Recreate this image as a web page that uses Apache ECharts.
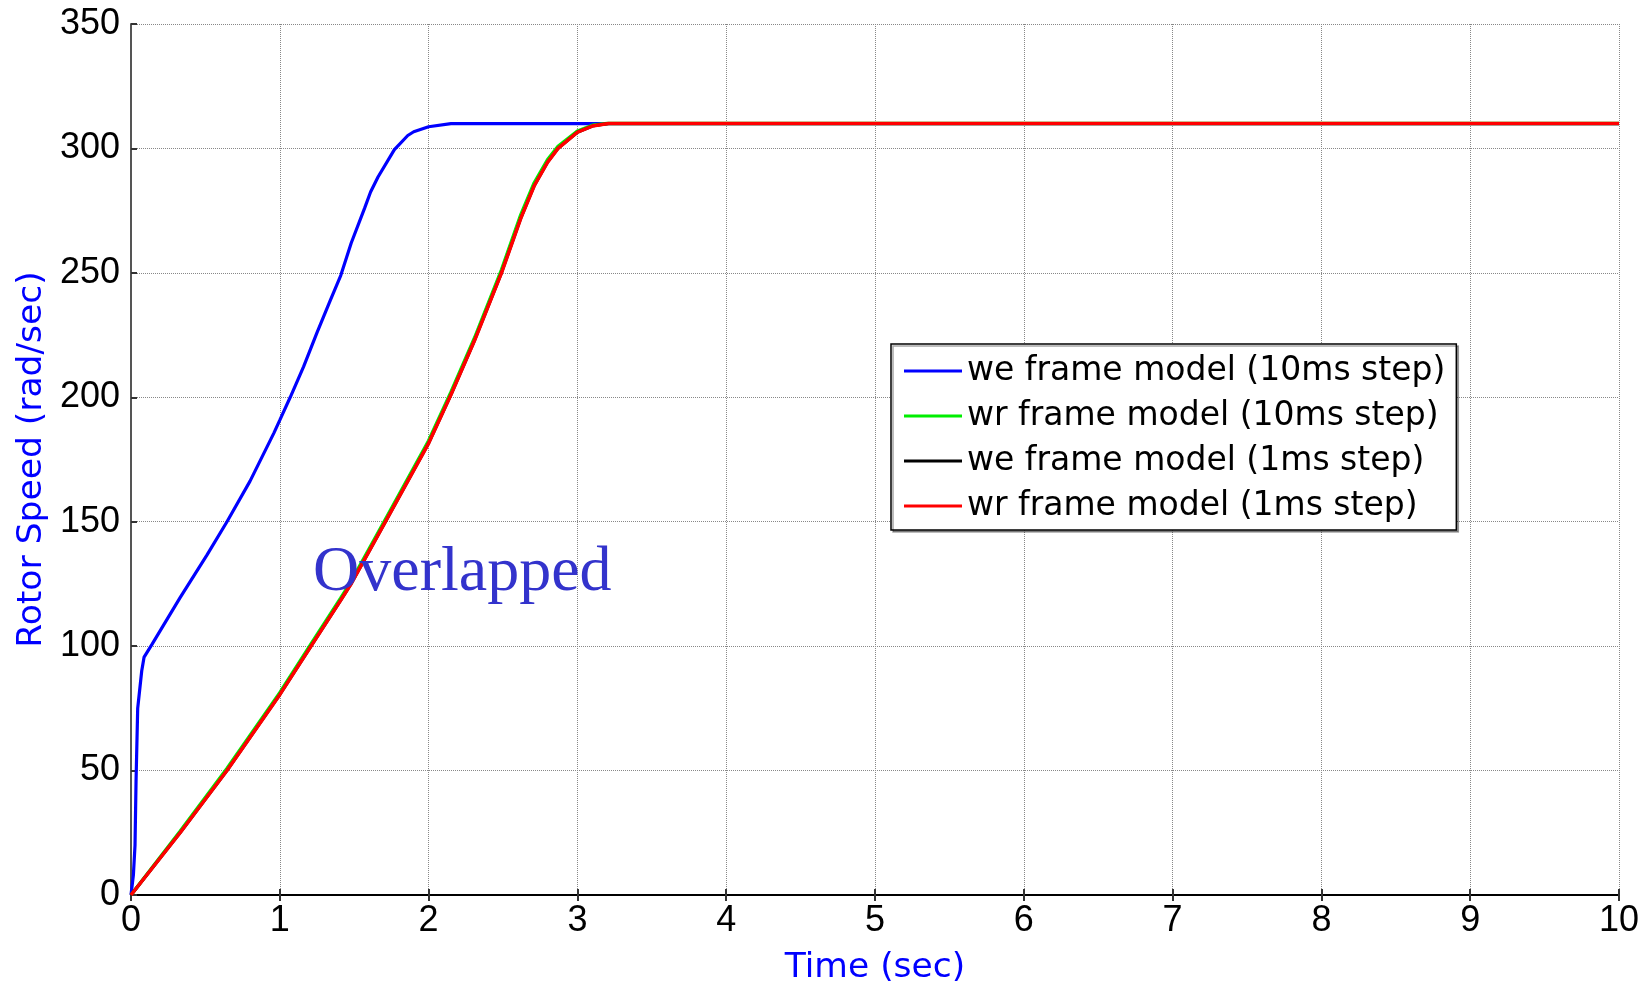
<!DOCTYPE html>
<html>
<head>
<meta charset="utf-8">
<script src="https://cdn.jsdelivr.net/npm/echarts@6/dist/echarts.min.js"></script>
<style>
html,body{margin:0;padding:0;background:#fff;}
#chart{width:1650px;height:983px;}
</style>
</head>
<body>
<div id="chart"></div>
<script>
// ---- Data ----
const seriesNames = [
  'we frame model (10ms step)',
  'wr frame model (10ms step)',
  'we frame model (1ms step)',
  'wr frame model (1ms step)'
];
const xTicks = [0,1,2,3,4,5,6,7,8,9,10];
const yTicks = [0,50,100,150,200,250,300,350];

// we frame model (10ms step) - blue
const weTime10 = [0, 0.016, 0.027, 0.034, 0.045, 0.072, 0.088, 0.14, 0.33, 0.51, 0.645, 0.8, 0.96, 1.0, 1.07, 1.16, 1.25, 1.34, 1.41, 1.48, 1.57, 1.61, 1.66, 1.77, 1.86, 1.9, 2.0, 2.15, 10];
const weSpeed10 = [0, 8, 20, 46, 75, 90, 95.6, 100.6, 119.5, 136.6, 150, 166.3, 185.6, 190.8, 200, 212.3, 226, 239, 249, 262, 276, 282.5, 288.5, 299.5, 305.2, 306.7, 308.7, 310, 310];

// wr frame model (10ms step) - green
const wrTime10 = [0, 0.33, 0.645, 1.0, 1.21, 1.41, 1.476, 1.71, 2.0, 2.15, 2.31, 2.49, 2.62, 2.71, 2.8, 2.87, 3.0, 3.1, 3.2, 10];
const wrSpeed10 = [0, 25.6, 50.8, 81.3, 100.9, 119.4, 125.6, 151, 182.5, 202, 224, 251.2, 273.4, 286.2, 295.5, 300.8, 307, 309.3, 310, 310];

// we frame model (1ms step) - black (hidden under red)
const weTime1 = [0, 0.33, 0.645, 1.0, 1.21, 1.41, 1.476, 1.71, 2.0, 2.15, 2.31, 2.49, 2.62, 2.71, 2.8, 2.87, 3.0, 3.1, 3.21, 10];
const weSpeed1 = [0, 25, 50, 80.5, 100, 118.5, 124.7, 150, 181.5, 201, 223, 250, 272, 285, 294.5, 300, 306.5, 309, 310, 310];

// wr frame model (1ms step) - red
const wrTime1 = [0, 0.33, 0.645, 1.0, 1.21, 1.41, 1.476, 1.71, 2.0, 2.15, 2.31, 2.49, 2.62, 2.71, 2.8, 2.87, 3.0, 3.1, 3.21, 10];
const wrSpeed1 = [0, 25, 50, 80.5, 100, 118.5, 124.7, 150, 181.5, 201, 223, 250, 272, 285, 294.5, 300, 306.5, 309, 310, 310];

const annotationText = 'Overlapped';

function pairs(t, v) { return t.map((x, i) => [x, v[i]]); }

const chart = echarts.init(document.getElementById('chart'), null, {renderer: 'canvas'});

const tickFont = {fontFamily: "'Liberation Sans', Arial, sans-serif", fontSize: 36, color: '#000'};
const nameFont = "'DejaVu Sans', 'Noto Sans', sans-serif";
const gridLine = {show: true, lineStyle: {color: '#888', type: [1, 1], width: 1}};

const lineSeries = (name, t, v, color, width, z) => ({
  name: name, type: 'line', data: pairs(t, v), showSymbol: false, symbol: 'none',
  lineStyle: {color: color, width: width}, itemStyle: {color: color},
  animation: false, z: z, silent: true
});

chart.setOption({
  animation: false,
  backgroundColor: '#fff',
  grid: {left: 131, right: 31, top: 24, bottom: 88, containLabel: false, outerBoundsMode: 'none'},
  xAxis: [{
    type: 'value', min: 0, max: 10, interval: 1,
    name: 'Time (sec)', nameLocation: 'middle', nameGap: 56,
    nameTextStyle: {fontFamily: nameFont, fontSize: 34.5, color: '#0000ff'},
    axisLine: {show: true, onZero: false, lineStyle: {color: '#000', width: 2}},
    axisTick: {show: true, inside: true, length: 6, lineStyle: {color: '#333', width: 2}},
    axisLabel: Object.assign({margin: 8, formatter: v => xTicks.includes(v) ? String(v) : ''}, tickFont),
    splitLine: gridLine
  }, {
    type: 'value', min: 0, max: 10, interval: 1, position: 'top',
    axisLine: {show: false},
    axisTick: {show: true, inside: true, length: 6, lineStyle: {color: '#333', width: 2}},
    axisLabel: {show: false}, splitLine: {show: false}
  }],
  yAxis: [{
    type: 'value', min: 0, max: 350, interval: 50,
    name: 'Rotor Speed (rad/sec)', nameLocation: 'middle', nameGap: 80,
    nameTextStyle: {fontFamily: nameFont, fontSize: 34.5, color: '#0000ff'},
    axisLine: {show: true, onZero: false, lineStyle: {color: '#555', width: 2}},
    axisTick: {show: true, inside: true, length: 6, lineStyle: {color: '#333', width: 2}},
    axisLabel: Object.assign({margin: 11, formatter: v => yTicks.includes(v) ? String(v) : ''}, tickFont),
    splitLine: gridLine
  }],
  legend: {
    orient: 'vertical', left: 891, top: 344,
    data: seriesNames,
    icon: 'rect', itemWidth: 58, itemHeight: 3, itemGap: 11,
    padding: [10, 11, 7, 13],
    backgroundColor: '#fff', borderColor: '#000', borderWidth: 1.5, borderRadius: 0,
    shadowColor: 'rgba(0,0,0,0.35)', shadowOffsetX: 2, shadowOffsetY: 2, shadowBlur: 0,
    textStyle: {fontFamily: nameFont, fontSize: 33, color: '#000', lineHeight: 34},
    selectedMode: false
  },
  graphic: [{
    type: 'text', left: 313, top: 541, z: 100, silent: true,
    style: {text: annotationText, fontFamily: "'Liberation Serif', 'Times New Roman', serif", fontSize: 64, fill: '#3333cc'}
  }],
  series: [
    lineSeries(seriesNames[0], weTime10, weSpeed10, '#0000ff', 3.2, 2),
    lineSeries(seriesNames[1], wrTime10, wrSpeed10, '#00ee00', 3.5, 3),
    lineSeries(seriesNames[2], weTime1, weSpeed1, '#000000', 3, 4),
    lineSeries(seriesNames[3], wrTime1, wrSpeed1, '#ff0000', 3.5, 5)
  ]
});
</script>
</body>
</html>
